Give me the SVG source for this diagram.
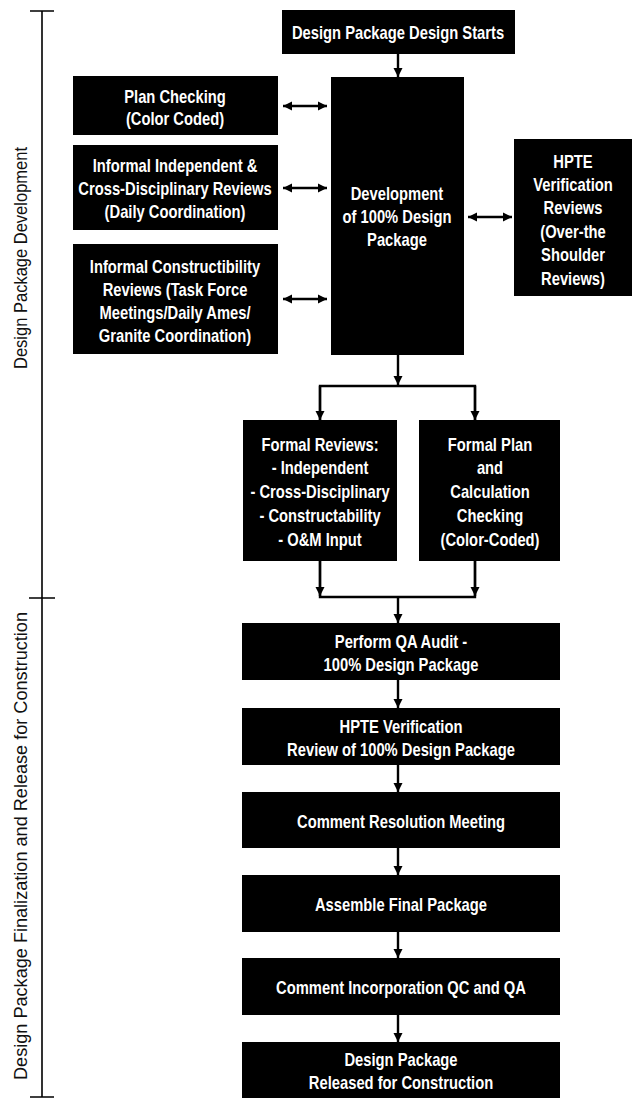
<svg xmlns="http://www.w3.org/2000/svg" width="632" height="1098" viewBox="0 0 632 1098">
<style>
.box{fill:#000}
.t{fill:#fff;font-family:"Liberation Sans",Arial,sans-serif;font-weight:bold;font-size:18px;text-anchor:middle}
.lab{fill:#111;font-family:"Liberation Sans","Noto Sans",sans-serif;font-size:18px;text-anchor:middle}
.c{stroke:#000;stroke-width:2.4;fill:none}
.br{stroke:#000;stroke-width:1.6;fill:none}
</style>
<defs>
<marker id="arr" viewBox="0 0 10 10" refX="10" refY="5" markerWidth="9" markerHeight="13" markerUnits="userSpaceOnUse" orient="auto-start-reverse">
<path d="M0,0 L10,5 L0,10 z" fill="#000"/>
</marker>
</defs>
<g id="bracket">
<path class="br" d="M42,11 V1097 M30,11 H54 M29,598 H55 M30,1097 H54"/>
<text class="lab" transform="translate(27,258) rotate(-90)" textLength="222" lengthAdjust="spacingAndGlyphs">Design Package Development</text>
<text class="lab" transform="translate(27,846) rotate(-90)" textLength="468" lengthAdjust="spacingAndGlyphs">Design Package Finalization and Release for Construction</text>
</g>
<g id="connectors">
<path class="c" d="M398,54 V77" marker-end="url(#arr)"/>
<path class="c" d="M283,106 H327" marker-start="url(#arr)" marker-end="url(#arr)"/>
<path class="c" d="M283,188 H327" marker-start="url(#arr)" marker-end="url(#arr)"/>
<path class="c" d="M283,299 H327" marker-start="url(#arr)" marker-end="url(#arr)"/>
<path class="c" d="M468,217 H512" marker-start="url(#arr)" marker-end="url(#arr)"/>
<path class="c" d="M398,355 V385" marker-end="url(#arr)"/>
<path class="c" d="M320,420 V386 H475 V420"/>
<path class="c" d="M320,386 V420" marker-end="url(#arr)"/>
<path class="c" d="M475,386 V420" marker-end="url(#arr)"/>
<path class="c" d="M320,561 V597 H475 V561"/>
<path class="c" d="M320,561 V596" marker-end="url(#arr)"/>
<path class="c" d="M475,561 V596" marker-end="url(#arr)"/>
<path class="c" d="M398,597 V623" marker-end="url(#arr)"/>
<path class="c" d="M398,680 V708" marker-end="url(#arr)"/>
<path class="c" d="M398,765 V792" marker-end="url(#arr)"/>
<path class="c" d="M398,848 V875" marker-end="url(#arr)"/>
<path class="c" d="M398,932 V958" marker-end="url(#arr)"/>
<path class="c" d="M398,1015 V1042" marker-end="url(#arr)"/>
</g>
<g id="start">
<rect class="box" x="282" y="10" width="233" height="44"/>
<g transform="translate(398,0) scale(0.82,1)"><text class="t" x="0" y="39">Design Package Design Starts</text></g>
</g>
<g id="development">
<rect class="box" x="331" y="77" width="133" height="278"/>
<g transform="translate(397,0) scale(0.82,1)">
<text class="t" x="0" y="200">Development</text>
<text class="t" x="0" y="223">of 100% Design</text>
<text class="t" x="0" y="246">Package</text>
</g>
</g>
<g id="plan-checking">
<rect class="box" x="73" y="76" width="205" height="59"/>
<g transform="translate(175,0) scale(0.82,1)">
<text class="t" x="0" y="103">Plan Checking</text>
<text class="t" x="0" y="125">(Color Coded)</text>
</g>
</g>
<g id="informal-independent">
<rect class="box" x="73" y="145" width="205" height="85"/>
<g transform="translate(175,0) scale(0.82,1)">
<text class="t" x="0" y="172">Informal Independent &amp;</text>
<text class="t" x="0" y="195">Cross-Disciplinary Reviews</text>
<text class="t" x="0" y="218">(Daily Coordination)</text>
</g>
</g>
<g id="informal-constructibility">
<rect class="box" x="73" y="244" width="205" height="110"/>
<g transform="translate(175,0) scale(0.82,1)">
<text class="t" x="0" y="273">Informal Constructibility</text>
<text class="t" x="0" y="296">Reviews (Task Force</text>
<text class="t" x="0" y="319">Meetings/Daily Ames/</text>
<text class="t" x="0" y="342">Granite Coordination)</text>
</g>
</g>
<g id="hpte-ots">
<rect class="box" x="514" y="139" width="118" height="157"/>
<g transform="translate(573,0) scale(0.82,1)">
<text class="t" x="0" y="168">HPTE</text>
<text class="t" x="0" y="191">Verification</text>
<text class="t" x="0" y="214">Reviews</text>
<text class="t" x="0" y="238">(Over-the</text>
<text class="t" x="0" y="261">Shoulder</text>
<text class="t" x="0" y="285">Reviews)</text>
</g>
</g>
<g id="formal-reviews">
<rect class="box" x="243" y="420" width="154" height="141"/>
<g transform="translate(320,0) scale(0.82,1)">
<text class="t" x="0" y="451">Formal Reviews:</text>
<text class="t" x="0" y="474">- Independent</text>
<text class="t" x="0" y="498">- Cross-Disciplinary</text>
<text class="t" x="0" y="522">- Constructability</text>
<text class="t" x="0" y="546">- O&amp;M Input</text>
</g>
</g>
<g id="formal-plan">
<rect class="box" x="419" y="420" width="141" height="141"/>
<g transform="translate(490,0) scale(0.82,1)">
<text class="t" x="0" y="451">Formal Plan</text>
<text class="t" x="0" y="474">and</text>
<text class="t" x="0" y="498">Calculation</text>
<text class="t" x="0" y="522">Checking</text>
<text class="t" x="0" y="546">(Color-Coded)</text>
</g>
</g>
<g id="qa-audit">
<rect class="box" x="242" y="623" width="318" height="57"/>
<g transform="translate(401,0) scale(0.82,1)">
<text class="t" x="0" y="648">Perform QA Audit -</text>
<text class="t" x="0" y="671">100% Design Package</text>
</g>
</g>
<g id="hpte-review">
<rect class="box" x="242" y="708" width="318" height="57"/>
<g transform="translate(401,0) scale(0.82,1)">
<text class="t" x="0" y="733">HPTE Verification</text>
<text class="t" x="0" y="756">Review of 100% Design Package</text>
</g>
</g>
<g id="comment-resolution">
<rect class="box" x="242" y="792" width="318" height="56"/>
<g transform="translate(401,0) scale(0.82,1)"><text class="t" x="0" y="828">Comment Resolution Meeting</text></g>
</g>
<g id="assemble">
<rect class="box" x="242" y="875" width="318" height="57"/>
<g transform="translate(401,0) scale(0.82,1)"><text class="t" x="0" y="911">Assemble Final Package</text></g>
</g>
<g id="incorporation">
<rect class="box" x="242" y="958" width="318" height="57"/>
<g transform="translate(401,0) scale(0.82,1)"><text class="t" x="0" y="994">Comment Incorporation QC and QA</text></g>
</g>
<g id="released">
<rect class="box" x="242" y="1042" width="318" height="56"/>
<g transform="translate(401,0) scale(0.82,1)">
<text class="t" x="0" y="1066">Design Package</text>
<text class="t" x="0" y="1089">Released for Construction</text>
</g>
</g>
</svg>
